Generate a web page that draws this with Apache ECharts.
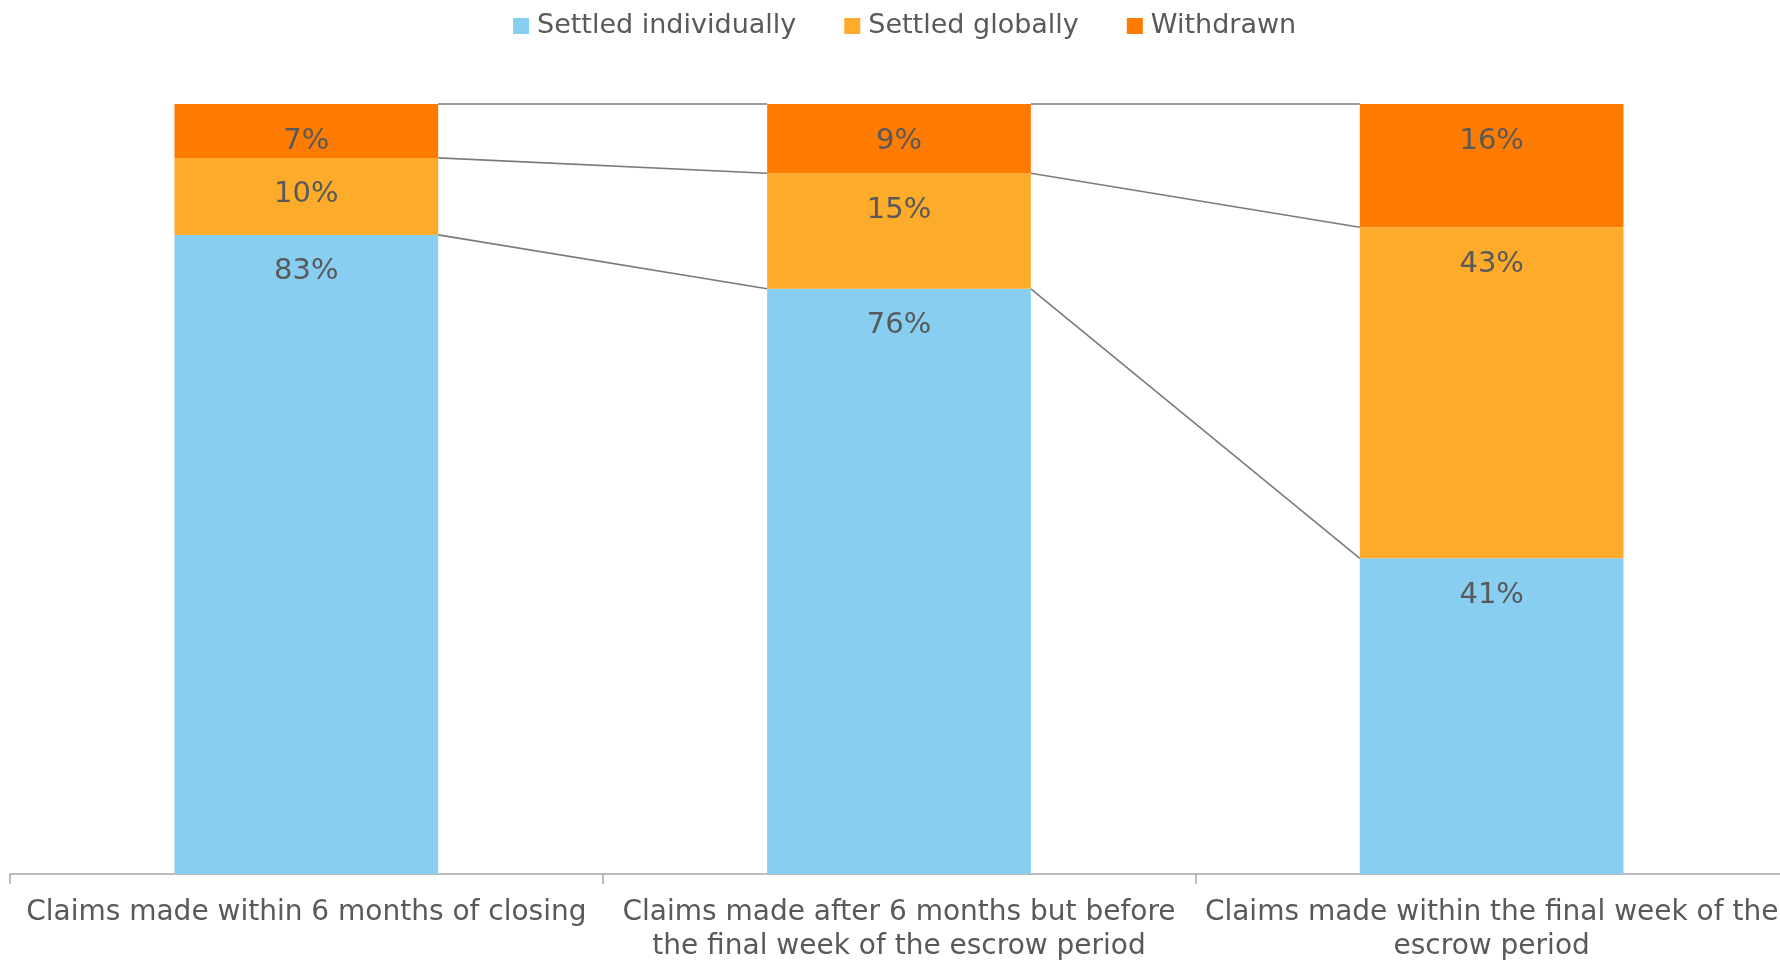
<!DOCTYPE html>
<html>
<head>
<meta charset="utf-8">
<script src="https://cdn.jsdelivr.net/npm/echarts@6/dist/echarts.min.js"></script>
<style>
html,body{margin:0;padding:0;background:#fff;overflow:hidden;width:1780px;height:964px;}
#chart{width:1800px;height:964px;}
</style>
</head>
<body>
<div id="chart"></div>
<script>
var categories = [
  "Claims made within 6 months of closing",
  "Claims made after 6 months but before\nthe final week of the escrow period",
  "Claims made within the final week of the\nescrow period"
];
var seriesNames = ["Settled individually", "Settled globally", "Withdrawn"];
var settledIndividually = [83, 76, 41];
var settledGlobally = [10, 15, 43];
var withdrawn = [7, 9, 16];

var colors = ["#87CEF0", "#FDAB2B", "#FF7C00"];
var textColor = "#595959";
var font = "DejaVu Sans";
var barRatio = 0.445;

var stacks = [settledIndividually, settledGlobally, withdrawn];
var levels = categories.map(function (c, i) {
  var acc = 0;
  return stacks.map(function (s) { acc += s[i]; return acc; });
});
var connectorData = [];
for (var i = 0; i < categories.length - 1; i++) {
  for (var k = 0; k < stacks.length; k++) {
    connectorData.push([i, levels[i][k], levels[i + 1][k]]);
  }
}

function barSeries(name, data, color) {
  return {
    name: name,
    type: 'bar',
    stack: 'total',
    data: data,
    barWidth: (barRatio * 100) + '%',
    itemStyle: { color: color },
    label: {
      show: true,
      position: 'insideTop',
      distance: 22,
      formatter: '{c}%',
      color: textColor,
      fontFamily: font,
      fontSize: 29,
      lineHeight: 30
    },
    emphasis: { disabled: true }
  };
}

var chart = echarts.init(document.getElementById('chart'));
chart.setOption({
  animation: false,
  legend: {
    data: seriesNames,
    left: 508,
    top: 7,
    itemWidth: 16,
    itemHeight: 16,
    itemGap: 48,
    icon: 'rect',
    textStyle: {
      color: textColor,
      fontFamily: font,
      fontSize: 27,
      lineHeight: 28,
      padding: [0, 0, 0, 3]
    },
    selectedMode: false
  },
  grid: {
    left: 10,
    top: 104,
    width: 1778,
    height: 771,
    containLabel: false
  },
  xAxis: {
    type: 'category',
    data: categories,
    axisLine: { lineStyle: { color: '#A6A6A6', width: 1.5 } },
    axisTick: { show: true, length: 10, lineStyle: { color: '#A6A6A6', width: 1.5 } },
    axisLabel: {
      interval: 0,
      color: textColor,
      fontFamily: font,
      fontSize: 28,
      lineHeight: 34,
      margin: 22
    }
  },
  yAxis: {
    type: 'value',
    min: 0,
    max: 100,
    show: false,
    splitLine: { show: false }
  },
  series: [
    barSeries(seriesNames[0], settledIndividually, colors[0]),
    barSeries(seriesNames[1], settledGlobally, colors[1]),
    barSeries(seriesNames[2], withdrawn, colors[2]),
    {
      type: 'custom',
      silent: true,
      data: connectorData,
      encode: { x: 0, y: 1 },
      renderItem: function (params, api) {
        var idx = api.value(0);
        var p1 = api.coord([idx, api.value(1)]);
        var p2 = api.coord([idx + 1, api.value(2)]);
        var half = api.size([1, 0])[0] * barRatio / 2;
        return {
          type: 'line',
          shape: { x1: p1[0] + half, y1: p1[1], x2: p2[0] - half, y2: p2[1] },
          style: { stroke: '#7A7A7A', lineWidth: 1.6 }
        };
      }
    }
  ]
});
</script>
</body>
</html>
